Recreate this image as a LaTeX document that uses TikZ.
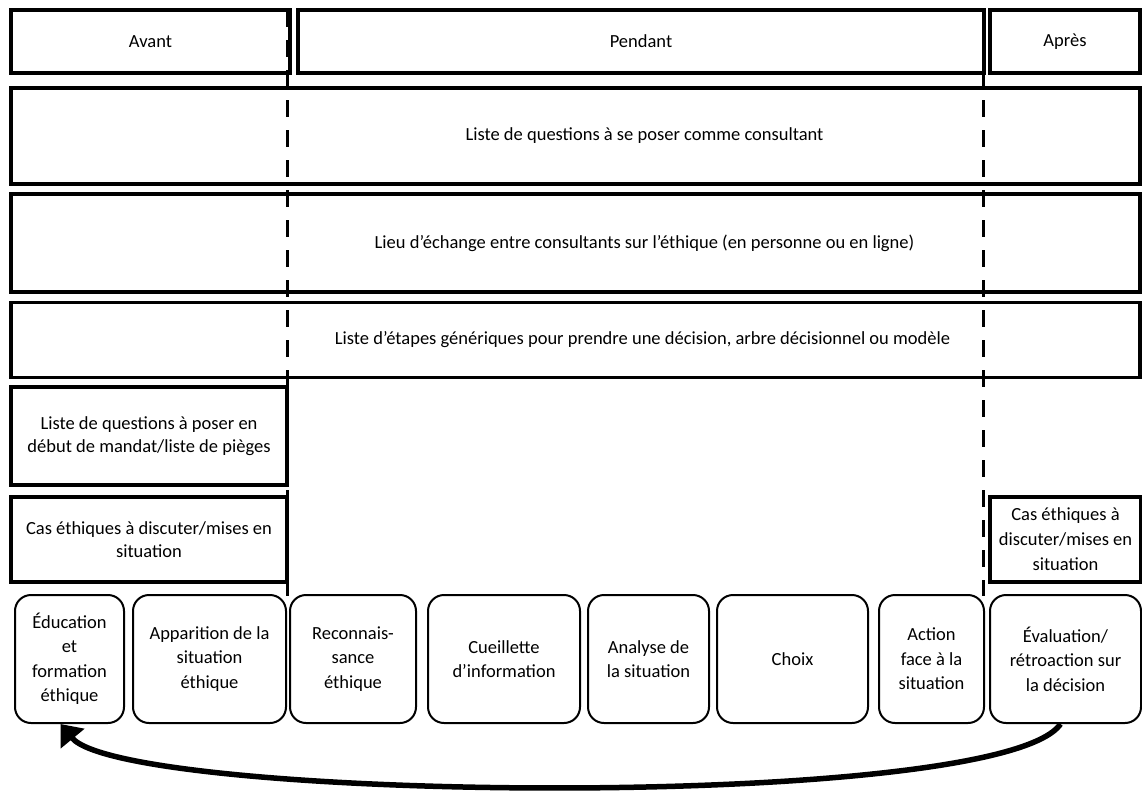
\documentclass[tikz,border=0pt]{standalone}
\usepackage{fontspec}
\setmainfont{Carlito}
\usepackage{xcolor}
\usepackage{tikz}
\usetikzlibrary{positioning,arrows.meta}
\tikzset{
  phase-box/.style={draw=black,line width=3.2pt,rectangle,inner sep=0pt,
    align=center,font=\fontsize{18.5}{23}\selectfont},
  band-box/.style={draw=black,line width=3.2pt,rectangle,inner sep=0pt,
    align=center,font=\fontsize{18.5}{23}\selectfont},
  band-text/.style={align=center,inner sep=0pt,font=\fontsize{18.5}{23}\selectfont},
  step-box/.style={draw=black,line width=2pt,rounded corners=16pt,inner sep=0pt,
    minimum height=128pt,align=center,font=\fontsize{18.5}{24.5}\selectfont},
  divider/.style={draw=black,line width=3pt,dash pattern=on 17pt off 13pt},
  loop-arrow/.style={-{Triangle[length=19pt,width=30pt]},line width=5.5pt,draw=black},
}

\begin{document}
\begin{tikzpicture}[x=1pt,y=-1pt]
  \useasboundingbox (0,0) rectangle (1142,793);
  % phases
  \node[phase-box,minimum width=279pt,minimum height=63pt] (avant) at (150.5,41.5) {Avant};
  \node[phase-box,minimum width=686pt,minimum height=63pt] (pendant) at (641,41.5) {Pendant};
  \node[phase-box,minimum width=150pt,minimum height=63pt] (apres) at (1065,41.5) {Après};
  % outils communs (texte centre sur la phase Pendant)
  \node[band-box,minimum width=1129pt,minimum height=96pt,
    label={[band-text,xshift=69pt]center:Liste de questions à se poser comme consultant}]
    (questions) at (575.5,136) {};
  \node[band-box,minimum width=1129pt,minimum height=98pt,
    label={[band-text,xshift=69pt]center:Lieu d’échange entre consultants sur l’éthique (en personne ou en ligne)}]
    (echange) at (575.5,243) {};
  \node[band-box,minimum width=1129pt,minimum height=75pt,
    label={[band-text,xshift=67pt]center:Liste d’étapes génériques pour prendre une décision, arbre décisionnel ou modèle}]
    (etapes) at (575.5,340) {};
  \node[band-box,minimum width=276pt,minimum height=98pt] (debut) at (149,436)
    {Liste de questions à poser en\\début de mandat/liste de pièges};
  \node[band-box,minimum width=276pt,minimum height=85pt] (cas-avant) at (149,539.5)
    {Cas éthiques à discuter/mises en\\situation};
  \node[band-box,minimum width=151pt,minimum height=85pt,font=\fontsize{18.5}{25}\selectfont]
    (cas-apres) at (1065.5,539.5) {Cas éthiques à\\discuter/mises en\\situation};
  % etapes du processus
  \node[step-box,minimum width=109pt] (educ) at (69.5,659) {Éducation\\et\\formation\\éthique};
  \node[step-box,minimum width=153pt] (apparition) at (209.5,659) {Apparition de la\\situation\\éthique};
  \node[step-box,minimum width=126pt] (reconn) at (353,659) {Reconnais-\\sance\\éthique};
  \node[step-box,minimum width=152pt] (cueillette) at (504,659) {Cueillette\\d’information};
  \node[step-box,minimum width=121pt] (analyse) at (648.5,659) {Analyse de\\la situation};
  \node[step-box,minimum width=151pt] (choix) at (792.5,659) {Choix};
  \node[step-box,minimum width=105pt] (action) at (931.5,659) {Action\\face à la\\situation};
  \node[step-box,minimum width=151pt] (evaluation) at (1065.5,659) {Évaluation/\\rétroaction sur\\la décision};
  % separations avant / pendant / apres
  \coordinate (div-a-top) at (287,10);
  \coordinate (div-a-bot) at (287,596);
  \coordinate (div-b-top) at (983,10);
  \coordinate (div-b-bot) at (983,596);
  \draw[divider] (div-a-top) -- (div-a-bot);
  \draw[divider] (div-b-top) -- (div-b-bot);
  % retour
  \draw[loop-arrow] ([xshift=-5pt]evaluation.south) .. controls (1000,812) and (125,802) .. ([xshift=-9pt]educ.south);
\end{tikzpicture}
\end{document}
